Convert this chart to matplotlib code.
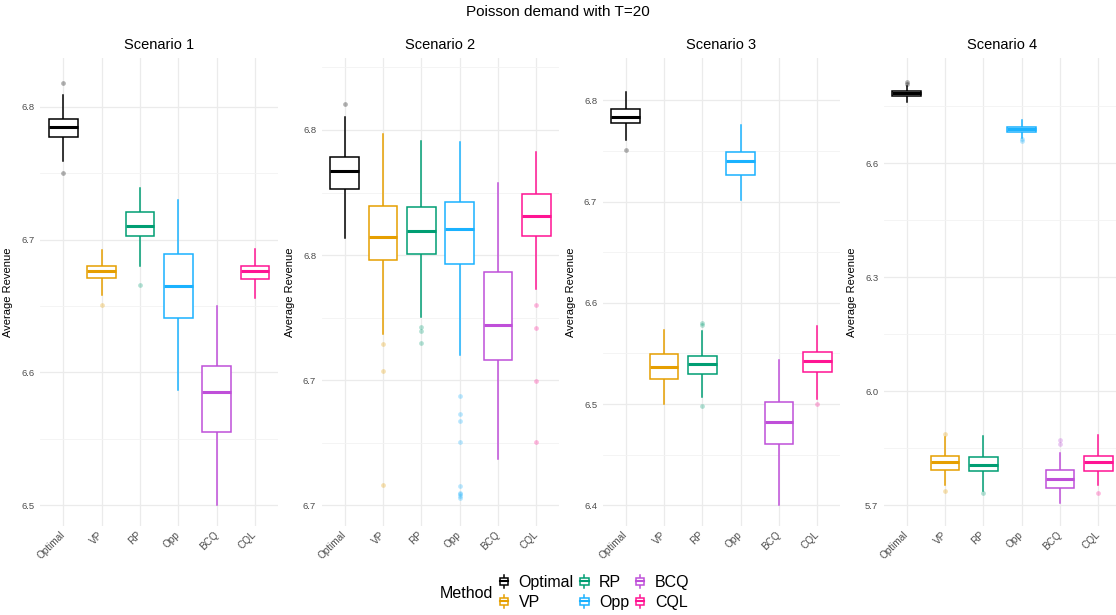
import matplotlib
matplotlib.use("Agg")
import matplotlib.pyplot as plt
from matplotlib.ticker import MultipleLocator, FormatStrFormatter
from matplotlib.legend_handler import HandlerBase
from matplotlib.patches import Rectangle
from matplotlib.lines import Line2D

plt.rcParams["font.family"] = ["Liberation Sans", "DejaVu Sans"]

# ==================================================
# DATA (box stats)
# ==================================================
methods = ["Optimal", "VP", "RP", "Opp", "BCQ", "CQL"]
colors = ["#000000", "#E69F00", "#009E73", "#1AB2FF", "#BF4FD9", "#FF1493"]
scenarios = ["Scenario 1", "Scenario 2", "Scenario 3", "Scenario 4"]

s1_low = [6.759, 6.658, 6.680, 6.587, 6.500, 6.656]
s1_q1 = [6.777, 6.671, 6.703, 6.641, 6.555, 6.670]
s1_med = [6.785, 6.676, 6.710, 6.665, 6.585, 6.676]
s1_q3 = [6.791, 6.680, 6.721, 6.689, 6.605, 6.680]
s1_high = [6.809, 6.692, 6.739, 6.730, 6.650, 6.693]
s1_out = [[6.818, 6.750], [6.651], [6.666], [], [], []]

s2_low = [6.7535, 6.7342, 6.7376, 6.7301, 6.7093, 6.7433]
s2_q1 = [6.7631, 6.7491, 6.7503, 6.7483, 6.7290, 6.7538]
s2_med = [6.7667, 6.7536, 6.7549, 6.7552, 6.7361, 6.7579]
s2_q3 = [6.7695, 6.7598, 6.7596, 6.7607, 6.7466, 6.7622]
s2_high = [6.7775, 6.7742, 6.7727, 6.7725, 6.7643, 6.7705]
s2_out = [[6.7801], [6.7322, 6.7269, 6.7041], [6.7356, 6.7349, 6.7324],
          [6.7219, 6.7183, 6.7169, 6.7127, 6.7038, 6.7025, 6.7022, 6.7019, 6.7015],
          [], [6.7400, 6.7355, 6.7248, 6.7127]]

s3_low = [6.7611, 6.5004, 6.5067, 6.7012, 6.4000, 6.5050]
s3_q1 = [6.7773, 6.5244, 6.5297, 6.7262, 6.4605, 6.5314]
s3_med = [6.7838, 6.5366, 6.5399, 6.7404, 6.4820, 6.5428]
s3_q3 = [6.7917, 6.5494, 6.5475, 6.7486, 6.5017, 6.5514]
s3_high = [6.8079, 6.5731, 6.5725, 6.7756, 6.5438, 6.5768]
s3_out = [[6.7509], [], [6.5798, 6.5785, 6.4981], [], [], [6.4998]]

s4_low = [6.7620, 5.7534, 5.7376, 6.6674, 5.7060, 5.7526]
s4_q1 = [6.7779, 5.7937, 5.7895, 6.6824, 5.7463, 5.7912]
s4_med = [6.7850, 5.8148, 5.8050, 6.6895, 5.7684, 5.8132]
s4_q3 = [6.7911, 5.8300, 5.8280, 6.6963, 5.7921, 5.8305]
s4_high = [6.8034, 5.8790, 5.8824, 6.7140, 5.8368, 5.8842]
s4_out = [[6.8147, 6.8087], [5.8884, 5.7370], [5.7316], [6.6630, 6.6590],
          [5.8727, 5.8621], [5.7333]]

panel_stats = [
    (s1_low, s1_q1, s1_med, s1_q3, s1_high, s1_out),
    (s2_low, s2_q1, s2_med, s2_q3, s2_high, s2_out),
    (s3_low, s3_q1, s3_med, s3_q3, s3_high, s3_out),
    (s4_low, s4_q1, s4_med, s4_q3, s4_high, s4_out),
]

# axis settings per panel: limits, major step, minor step
ylims = [(6.4844, 6.8364), (6.6959, 6.7893), (6.3796, 6.8415), (5.6455, 6.8763)]
major_steps = [0.1, 0.025, 0.1, 0.3]
minor_steps = [0.05, 0.0125, 0.05, 0.15]


# ==================================================
# FIGURE
# ==================================================
W, H = 1116, 615
fig = plt.figure(figsize=(W / 100, H / 100), dpi=100)

panel_lefts = [40.3, 321.7, 602.7, 883.7]
panel_w = 237.7
top_px, bot_px = 58.3, 526.0
grid_c = "#EBEBEB"
txt_gray = "#4D4D4D"

positions = list(range(1, len(methods) + 1))

for k, left in enumerate(panel_lefts):
    ax = fig.add_axes([left / W, (H - bot_px) / H, panel_w / W, (bot_px - top_px) / H])
    low, q1, med, q3, high, out = panel_stats[k]

    stats = []
    for i in range(len(methods)):
        stats.append(dict(whislo=low[i], q1=q1[i], med=med[i], q3=q3[i],
                          whishi=high[i], fliers=out[i]))

    bp = ax.bxp(stats, positions=positions, widths=0.75, showcaps=False,
                patch_artist=True, manage_ticks=False)
    for i, c in enumerate(colors):
        bp["boxes"][i].set(facecolor="white", edgecolor=c, linewidth=1.1, zorder=3)
        bp["medians"][i].set(color=c, linewidth=2.2, solid_capstyle="butt", zorder=4)
        for w in bp["whiskers"][2 * i:2 * i + 2]:
            w.set(color=c, linewidth=1.1, zorder=2)
        bp["fliers"][i].set(marker="o", markerfacecolor=c, markeredgecolor="none",
                            markersize=3.4, alpha=0.3, zorder=2)

    ax.set_xlim(0.4, 6.6)
    ax.set_ylim(*ylims[k])
    ax.yaxis.set_major_locator(MultipleLocator(major_steps[k]))
    ax.yaxis.set_minor_locator(MultipleLocator(minor_steps[k]))
    ax.yaxis.set_major_formatter(FormatStrFormatter("%.1f"))
    ax.set_xticks(positions)
    ax.set_xticklabels(methods, rotation=45, ha="right", va="center",
                       rotation_mode="anchor", fontsize=7.2, color=txt_gray)

    ax.grid(True, which="major", color=grid_c, linewidth=0.9)
    ax.grid(True, which="minor", axis="y", color="#F3F3F3", linewidth=0.6)
    ax.set_axisbelow(True)
    ax.tick_params(axis="both", which="both", length=0)
    ax.tick_params(axis="y", labelsize=6.8, labelcolor=txt_gray, pad=4)
    ax.tick_params(axis="x", pad=5)
    for s in ax.spines.values():
        s.set_visible(False)

    ax.set_ylabel("Average Revenue", fontsize=8)
    ax.yaxis.set_label_coords(-27 / panel_w, 0.5)
    ax.text(0.5, 1 + 13 / (bot_px - top_px), scenarios[k], transform=ax.transAxes,
            ha="center", va="center", fontsize=10.5)

fig.text(0.5, 1 - 12 / H, "Poisson demand with T=20", ha="center", va="center", fontsize=11)


# ==================================================
# LEGEND (boxplot glyph keys)
# ==================================================
class BoxGlyph(HandlerBase):
    def create_artists(self, legend, orig_handle, xdescent, ydescent, width, height,
                       fontsize, trans):
        c = orig_handle.get_color()
        x0, y0 = -xdescent, -ydescent
        cx = x0 + width / 2
        bw, bh = width * 0.85, height * 0.6
        whisk = Line2D([cx, cx], [y0 - 0.05 * height, y0 + 1.05 * height], color=c,
                       lw=1.1, transform=trans)
        rect = Rectangle((cx - bw / 2, y0 + height / 2 - bh / 2), bw, bh,
                         facecolor="white", edgecolor=c, lw=1.1, transform=trans)
        med = Line2D([cx - bw / 2, cx + bw / 2], [y0 + height / 2] * 2, color=c,
                     lw=1.5, transform=trans)
        return [whisk, rect, med]


handles = [Line2D([], [], color=c) for c in colors]
fig.legend(handles, methods, handler_map={Line2D: BoxGlyph()}, ncol=3,
           loc="center left", bbox_to_anchor=(499 / W, 1 - 592.5 / H), frameon=False,
           fontsize=11.5, handlelength=0.6, handletextpad=0.62, columnspacing=0.38,
           labelspacing=0.32, borderpad=0, borderaxespad=0)
fig.text(440 / W, 1 - 593 / H, "Method", ha="left", va="center", fontsize=11.5)

fig.savefig("out.png", dpi=100)
